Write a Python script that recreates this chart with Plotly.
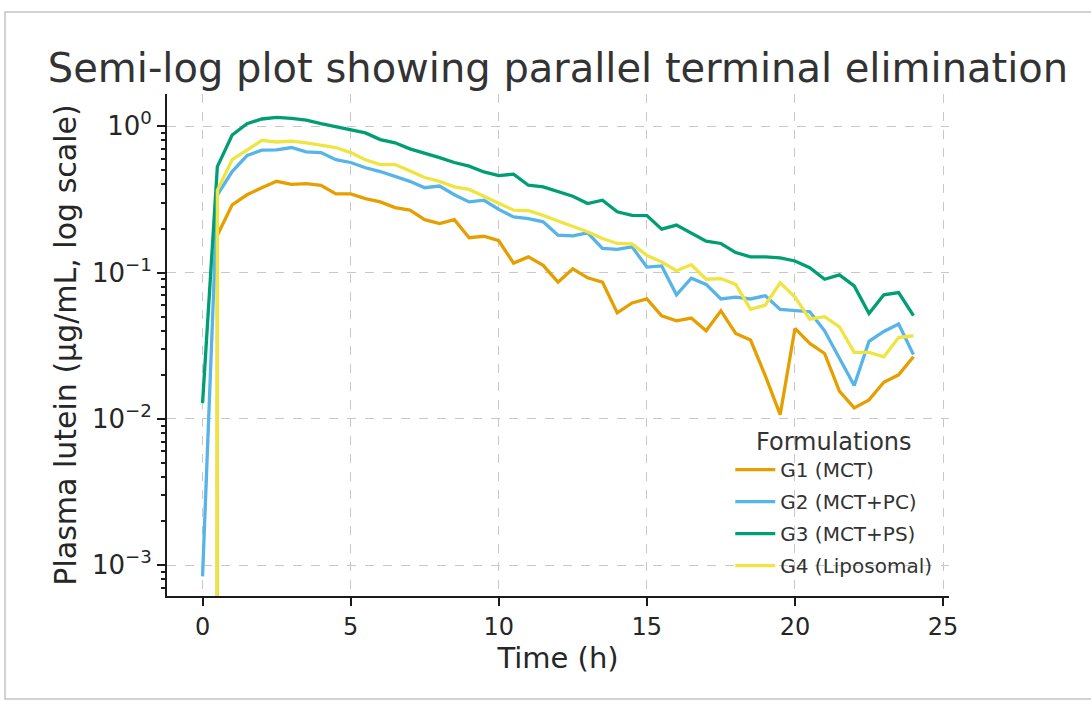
import plotly.graph_objects as go

time_h = [0, 0.5, 1, 1.5, 2, 2.5, 3, 3.5, 4, 4.5, 5, 5.5, 6, 6.5, 7, 7.5, 8, 8.5, 9, 9.5,
          10, 10.5, 11, 11.5, 12, 12.5, 13, 13.5, 14, 14.5, 15, 15.5, 16, 16.5, 17, 17.5,
          18, 18.5, 19, 19.5, 20, 20.5, 21, 21.5, 22, 22.5, 23, 23.5, 24]

g1_mct = [0, 0.18, 0.29, 0.34, 0.38, 0.42, 0.40, 0.405, 0.395, 0.345, 0.345, 0.32, 0.304,
          0.278, 0.267, 0.23, 0.216, 0.23, 0.173, 0.177, 0.165, 0.116, 0.128, 0.112, 0.086,
          0.106, 0.092, 0.086, 0.053, 0.062, 0.066, 0.0507, 0.0468, 0.0489, 0.040, 0.0548,
          0.0384, 0.0346, 0.0197, 0.0107, 0.0415, 0.0328, 0.028, 0.0155, 0.0119, 0.0135,
          0.0178, 0.020, 0.0266]

g2_mct_pc = [0.00084, 0.34, 0.49, 0.63, 0.686, 0.69, 0.715, 0.667, 0.66, 0.59, 0.565, 0.52,
             0.49, 0.455, 0.42, 0.38, 0.39, 0.34, 0.304, 0.312, 0.27, 0.24, 0.234, 0.222,
             0.18, 0.178, 0.187, 0.146, 0.144, 0.15, 0.109, 0.111, 0.0705, 0.0916, 0.083,
             0.066, 0.068, 0.066, 0.0695, 0.056, 0.0552, 0.054, 0.040, 0.0263, 0.0169,
             0.0339, 0.0396, 0.0445, 0.0275]

g3_mct_ps = [0.0128, 0.53, 0.87, 1.04, 1.12, 1.15, 1.13, 1.10, 1.04, 0.99, 0.94, 0.90, 0.81,
             0.77, 0.70, 0.657, 0.61, 0.565, 0.533, 0.487, 0.46, 0.47, 0.395, 0.385, 0.356,
             0.332, 0.296, 0.312, 0.26, 0.246, 0.245, 0.198, 0.211, 0.185, 0.164, 0.158,
             0.137, 0.128, 0.128, 0.126, 0.12, 0.108, 0.090, 0.0965, 0.081, 0.0525, 0.0705,
             0.073, 0.0507]

g4_liposomal = [0, 0.365, 0.59, 0.686, 0.80, 0.78, 0.79, 0.77, 0.74, 0.715, 0.66, 0.59, 0.547,
                0.547, 0.495, 0.446, 0.42, 0.385, 0.37, 0.332, 0.30, 0.267, 0.265, 0.246,
                0.225, 0.207, 0.19, 0.171, 0.158, 0.157, 0.131, 0.118, 0.103, 0.113, 0.090,
                0.091, 0.083, 0.056, 0.060, 0.085, 0.068, 0.048, 0.0499, 0.0426, 0.0285,
                0.0285, 0.0266, 0.036, 0.037]

series_names = ["G1 (MCT)", "G2 (MCT+PC)", "G3 (MCT+PS)", "G4 (Liposomal)"]
series_colors = ["#E69F00", "#56B4E9", "#009E73", "#F0E442"]

y_tick_vals = [0.001, 0.01, 0.1, 1]
y_tick_text = ["10<sup>\u22123</sup>", "10<sup>\u22122</sup>", "10<sup>\u22121</sup>", "10<sup>0</sup>"]
x_tick_vals = [0, 5, 10, 15, 20, 25]

FONT = "DejaVu Sans"
TEXT = "#262626"

fig = go.Figure()
for name, vals, col in zip(series_names, [g1_mct, g2_mct_pc, g3_mct_ps, g4_liposomal], series_colors):
    # non-positive values are clipped to a tiny positive number, as a log axis does
    yv = [v if v > 0 else 1e-300 for v in vals]
    fig.add_trace(go.Scatter(x=time_h, y=yv, mode="lines", name=name, legendgroup=name,
                             line=dict(color=col, width=3.3)))

minor_vals = [m * 10 ** e for e in range(-4, 1) for m in range(2, 10)]

fig.update_layout(
    width=1091, height=702,
    margin=dict(l=167, r=142, t=94, b=106),
    paper_bgcolor="white", plot_bgcolor="white",
    font=dict(family=FONT, color=TEXT),
    title=dict(text="Semi-log plot showing parallel terminal elimination",
               font=dict(family=FONT, size=40, color="#333333"),
               x=(167 + 949) / 2 / 1091, xanchor="center",
               y=1 - 68 / 702, yanchor="middle", yref="container"),
    showlegend=True,
    legend=dict(title=dict(text="Formulations", side="top center",
                           font=dict(family=FONT, size=24, color="#333333")),
                font=dict(family=FONT, size=20, color="#333333"),
                x=0.985, y=0.02, xanchor="right", yanchor="bottom",
                tracegroupgap=3,
                bgcolor="rgba(0,0,0,0)", borderwidth=0, itemwidth=40),
    shapes=[dict(type="rect", xref="paper", yref="paper",
                 x0=(5 - 167) / 782, x1=(1100 - 167) / 782,
                 y0=(596 - 699) / 502, y1=(596 - 12) / 502,
                 line=dict(color="#c4c4c4", width=1.5), fillcolor="rgba(0,0,0,0)",
                 layer="below")],
)

fig.update_xaxes(
    range=[-1.2, 25.2], tickmode="array", tickvals=x_tick_vals,
    showline=True, linecolor="#1a1a1a", linewidth=2,
    ticks="outside", ticklen=8, tickwidth=2, tickcolor="#1a1a1a",
    tickfont=dict(family=FONT, size=24, color=TEXT),
    showgrid=True, gridcolor="#c8c8c8", gridwidth=1, griddash="dash",
    zeroline=False,
    title=dict(text="Time (h)", font=dict(family=FONT, size=29, color=TEXT), standoff=8),
)

fig.update_yaxes(
    type="log", range=[-3.21, 0.22], tickmode="array",
    tickvals=y_tick_vals, ticktext=y_tick_text,
    showline=True, linecolor="#1a1a1a", linewidth=2,
    ticks="outside", ticklen=8, tickwidth=2, tickcolor="#1a1a1a",
    tickfont=dict(family=FONT, size=26, color=TEXT),
    minor=dict(tickvals=minor_vals, ticks="outside", ticklen=4, tickwidth=1.5,
               tickcolor="#1a1a1a", showgrid=False),
    showgrid=True, gridcolor="#c8c8c8", gridwidth=1, griddash="dash",
    zeroline=False,
    title=dict(text="Plasma lutein (\u00b5g/mL, log scale)",
               font=dict(family=FONT, size=30, color=TEXT), standoff=6),
)

fig.write_html("out.html")
